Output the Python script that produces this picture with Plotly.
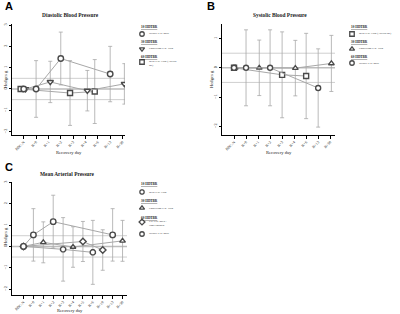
import plotly.graph_objects as go

W, H = 400, 314

# ---------------- data ----------------
cats_AB = ["BDC-N", "R+0", "R+1", "R+2", "R+3", "R+4", "R+6", "R+13", "R+30"]
cats_C = ["BDC-N", "R+0", "R+1", "R+2", "R+3", "R+4", "R+5", "R+6", "R+10", "R+13", "R+30"]

# Panel A – Diastolic
A_westby_days = ["BDC-N", "R+0", "R+2", "R+13"]
A_westby_g = [0, 0, 1.43, 0.70]
A_westby_err = [None, 1.33, 1.24, 1.30]
A_conv_days = ["BDC-N", "R+1", "R+4", "R+30"]
A_conv_g = [0, 0.33, -0.08, 0.24]
A_conv_err = [None, 0.97, 0.95, 0.95]
A_beck_days = ["BDC-N", "R+3", "R+6"]
A_beck_g = [0, -0.19, -0.12]
A_beck_err = [None, 1.52, 1.50]

# Panel B – Systolic
B_beck_days = ["BDC-N", "R+3", "R+6"]
B_beck_g = [0, -0.24, -0.28]
B_beck_err = [None, 1.47, 1.46]
B_conv_days = ["BDC-N", "R+1", "R+4", "R+30"]
B_conv_g = [0, 0.0, -0.01, 0.15]
B_conv_err = [None, 0.95, 0.95, 0.96]
B_westby_days = ["BDC-N", "R+0", "R+2", "R+13"]
B_westby_g = [0, 0.0, 0.0, -0.69]
B_westby_err = [None, 1.30, 1.30, 1.34]

# Panel C – MAP
C_beck_days = ["BDC-N", "R+3", "R+6"]
C_beck_g = [0, -0.14, -0.28]
C_beck_err = [None, 1.49, 1.50]
C_conv_days = ["BDC-N", "R+1", "R+4", "R+30"]
C_conv_g = [0, 0.19, -0.03, 0.26]
C_conv_err = [None, 0.96, 0.95, 0.96]
C_lee_days = ["BDC-N", "R+5", "R+10"]
C_lee_g = [0, 0.23, -0.17]
C_lee_err = [None, 0.94, 0.95]
C_westby_days = ["BDC-N", "R+0", "R+2", "R+13"]
C_westby_g = [0, 0.54, 1.16, 0.54]
C_westby_err = [None, 1.23, 1.24, 1.23]

# ---------------- style ----------------
SERIF = "Liberation Serif"
MK_LINE = "#4a4a4a"
LINE_C = "#a8a8a8"
ERR_C = "#a8a8a8"
TXT = "#222"

fig = go.Figure()


def px_x(p):
    return p / W


def px_y(p):
    return 1 - p / H


def add_series(days, cats, g, err, symbol, size, xa, ya, offset=0.0):
    xs = [cats.index(d) + offset for d in days]
    fig.add_trace(go.Scatter(
        x=xs, y=g, mode="lines+markers", xaxis=xa, yaxis=ya,
        line=dict(color=LINE_C, width=1),
        marker=dict(symbol=symbol, size=size, color="white",
                    line=dict(color=MK_LINE, width=1.4)),
        error_y=dict(type="data", array=err, visible=True, color=ERR_C,
                     thickness=0.8, width=2),
        showlegend=False, hoverinfo="skip"))


# A
add_series(A_beck_days, cats_AB, A_beck_g, A_beck_err, "square", 5, "x", "y", -0.25)
add_series(A_conv_days, cats_AB, A_conv_g, A_conv_err, "triangle-down", 5.5, "x", "y", 0.15)
add_series(A_westby_days, cats_AB, A_westby_g, A_westby_err, "circle", 5.5, "x", "y")
# B
add_series(B_beck_days, cats_AB, B_beck_g, B_beck_err, "square", 5, "x2", "y2")
add_series(B_conv_days, cats_AB, B_conv_g, B_conv_err, "triangle-up", 5, "x2", "y2", 0.1)
add_series(B_westby_days, cats_AB, B_westby_g, B_westby_err, "circle", 5, "x2", "y2")
# C
add_series(C_beck_days, cats_C, C_beck_g, C_beck_err, "octagon", 5.5, "x3", "y3")
add_series(C_conv_days, cats_C, C_conv_g, C_conv_err, "triangle-up", 5, "x3", "y3")
add_series(C_lee_days, cats_C, C_lee_g, C_lee_err, "diamond", 5, "x3", "y3")
add_series(C_westby_days, cats_C, C_westby_g, C_westby_err, "circle", 5.5, "x3", "y3")

# ---------------- axes ----------------
def xaxis(dom_px, rng, cats, anchor):
    return dict(domain=[px_x(dom_px[0]), px_x(dom_px[1])], range=rng,
                tickvals=list(range(len(cats))), ticktext=cats, tickangle=-45,
                tickfont=dict(family=SERIF, size=3.8, color=TXT),
                showline=True, linecolor="black", linewidth=1,
                ticks="outside", ticklen=2.5, tickwidth=1, tickcolor="black",
                showgrid=False, zeroline=False, anchor=anchor, automargin=False)


def yaxis(dom_px, rng, tickvals, anchor):
    return dict(domain=[px_y(dom_px[1]), px_y(dom_px[0])], range=rng,
                tickvals=tickvals, tickangle=-90,
                tickfont=dict(family=SERIF, size=4.3, color=TXT),
                showline=True, linecolor="black", linewidth=1,
                ticks="outside", ticklen=2.5, tickwidth=1, tickcolor="black",
                showgrid=False, zeroline=False, anchor=anchor, automargin=False)


fig.update_layout(
    xaxis=xaxis((12, 125), [-0.95, 8.2], cats_AB, "y"),
    yaxis=yaxis((24, 135), [-2.16, 3.05], [-2, -1, 0, 1, 2, 3], "x"),
    xaxis2=xaxis((222, 335), [-1.0, 8.4], cats_AB, "y2"),
    yaxis2=yaxis((24, 135), [-2.3, 1.5], [-2, -1, 0, 1], "x2"),
    xaxis3=xaxis((12, 127), [-1.16, 10.45], cats_C, "y3"),
    yaxis3=yaxis((182, 295), [-2.28, 3.02], [-2, -1, 0, 1, 2, 3], "x3"),
    xaxis4=dict(domain=[0, 1], range=[0, W], visible=False, anchor="y4"),
    yaxis4=dict(domain=[0, 1], range=[H, 0], visible=False, anchor="x4"),
)

# reference lines
shapes = []
for xr, yr in [("x", "y"), ("x2", "y2"), ("x3", "y3")]:
    for yv, col, wd in [(0.5, "#cfcfcf", 1), (-0.5, "#cfcfcf", 1), (0, "#bdbdbd", 1.5)]:
        shapes.append(dict(type="line", xref=f"{xr} domain", yref=yr, x0=0, x1=1,
                           y0=yv, y1=yv, line=dict(color=col, width=wd), layer="below"))
fig.update_layout(shapes=shapes)

annotations = []


def text(x, y, t, size, anchor="center", angle=0, bold=False, family=SERIF, color=TXT):
    annotations.append(dict(x=px_x(x), y=px_y(y), xref="paper", yref="paper",
                            text=f"<b>{t}</b>" if bold else t, showarrow=False,
                            xanchor=anchor, yanchor="middle", textangle=angle, align="left",
                            font=dict(family=family, size=size, color=color)))


# axis titles
for x, y in [(69, 152), (279, 152), (70, 310)]:
    text(x, y, "Recovery day", 4.6)
for x, y in [(5, 79), (211, 79), (5, 236)]:
    text(x, y, "Hedges g", 4.6, angle=-90)

# ---------------- legends ----------------
legend_A = [("h", "10 HDTBR", 27), ("circle", "Westby et al. 2016", 34),
            ("h", "30 HDTBR", 42), ("triangle-down", "Convertino et al. 1990", 49),
            ("h", "60 HDTBR", 57), ("square", "Beck et al. 1992 (Arterial<br>BP)", 64)]
legend_B = [("h", "10 HDTBR", 27), ("square", "Beck et al. 1992 (Arterial BP)", 34),
            ("h", "30 HDTBR", 42), ("triangle-up", "Convertino et al. 1990", 49),
            ("h", "60 HDTBR", 57), ("circle", "Westby et al. 2016", 63)]
legend_C = [("h", "10 HDTBR", 184), ("octagon", "Beck et al. 1992", 192),
            ("h", "30 HDTBR", 201), ("triangle-up", "Convertino et al. 1990", 208),
            ("h", "60 HDTBR", 218), ("diamond", "Lee et al. 2015 -<br>Non-Finishers", 224),
            ("circle", "Westby et al. 2016", 234)]

for items, x0 in [(legend_A, 139), (legend_B, 349), (legend_C, 139)]:
    mx, my, msym = [], [], []
    for sym, txt, yy in items:
        if sym == "h":
            text(x0, yy, f"<u>{txt}</u>", 3.4, anchor="left", bold=True)
        else:
            mx.append(x0 + 3)
            my.append(yy if "<br>" not in txt else yy - 2)
            msym.append(sym)
            text(x0 + 8, yy, txt, 2.7, anchor="left")
    fig.add_trace(go.Scatter(x=mx, y=my, mode="markers", xaxis="x4", yaxis="y4",
                             marker=dict(symbol=msym, size=4.5, color="white",
                                         line=dict(color=MK_LINE, width=1.3)),
                             showlegend=False, hoverinfo="skip"))

# titles and panel letters
for t, x, y in [("Diastolic Blood Pressure", 70, 15), ("Systolic Blood Pressure", 280, 15),
                ("Mean Arterial Pressure", 67, 174)]:
    text(x, y, t, 5.4, bold=True)
for t, x, y in [("A", 3, 6), ("B", 205, 6), ("C", 3, 167)]:
    text(x, y, t, 11, anchor="left", bold=True, family="Liberation Sans", color="black")

fig.update_layout(annotations=annotations)
fig.update_layout(width=W, height=H, margin=dict(l=0, r=0, t=0, b=0),
                  paper_bgcolor="white", plot_bgcolor="rgba(0,0,0,0)", showlegend=False)

fig.write_html("out.html", config={"displayModeBar": False},
               post_script="document.body.style.margin='0px';document.body.style.overflow='hidden';")
